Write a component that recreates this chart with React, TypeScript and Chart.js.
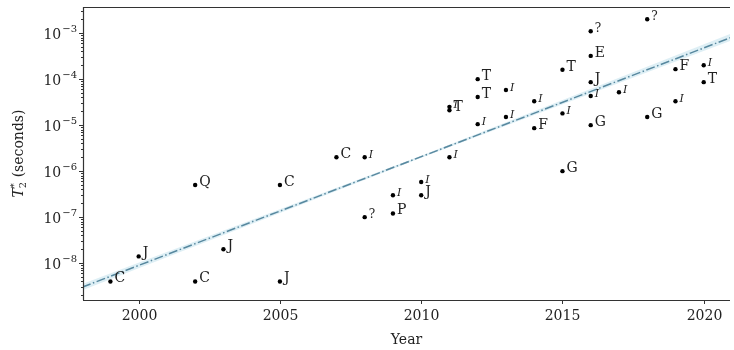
import { useEffect, useRef } from 'react';
import { Chart, registerables } from 'chart.js';

Chart.register(...registerables);

// ---- data ----
const pointYears = [
  1999, 2000, 2002, 2002, 2003, 2005, 2005, 2007, 2008, 2008,
  2009, 2009, 2010, 2010, 2011, 2011, 2011, 2012, 2012, 2012,
  2013, 2013, 2014, 2014, 2015, 2015, 2015, 2016, 2016, 2016,
  2016, 2016, 2017, 2018, 2018, 2019, 2019, 2020, 2020,
];
const pointValues = [
  4e-9, 1.4e-8, 5e-7, 4e-9, 2e-8, 5e-7, 4e-9, 2e-6, 2e-6, 1e-7,
  3e-7, 1.2e-7, 5.8e-7, 3e-7, 2.1e-5, 2.5e-5, 2e-6, 1e-4, 4.1e-5, 1.05e-5,
  5.8e-5, 1.5e-5, 3.3e-5, 8.6e-6, 1.6e-4, 1.8e-5, 1e-6, 1.1e-3, 3.2e-4, 8.6e-5,
  4.3e-5, 1e-5, 5.2e-5, 2e-3, 1.5e-5, 1.65e-4, 3.3e-5, 2e-4, 8.6e-5,
];
const pointLabels = [
  'C', 'J', 'Q', 'C', 'J', 'C', 'J', 'C', 'I', '?',
  'I', 'P', 'I', 'J', 'T', 'I', 'I', 'T', 'T', 'I',
  'I', 'I', 'I', 'F', 'T', 'I', 'G', '?', 'E', 'J',
  'I', 'G', 'I', '?', 'G', 'F', 'I', 'I', 'T',
];
const trendYears = [1998, 2021];
const trendValues = [3.0e-9, 8.2e-4];
const bandYears = [1998, 2010, 2021];
const bandUpper = [3.5e-9, 2.15e-6, 1.0e-3];
const bandLower = [2.55e-9, 1.96e-6, 7.0e-4];
const xTickYears = [2000, 2005, 2010, 2015, 2020];
const yTickPowers = [-8, -7, -6, -5, -4, -3];
const xLimits = [1998.03, 2020.93];
const yLimits = [1.58e-9, 3.7e-3];

const FONT = '"DejaVu Serif", "Liberation Serif", serif';
const INK = '#222';

const decorPlugin = {
  id: 'decor',
  afterDatasetsDraw(chart: any) {
    const ctx: CanvasRenderingContext2D = chart.ctx;
    const { left, right, top, bottom } = chart.chartArea;
    const xs = chart.scales.x;
    const ys = chart.scales.y;
    ctx.save();

    // point labels
    const meta = chart.getDatasetMeta(3);
    ctx.fillStyle = INK;
    ctx.textAlign = 'left';
    ctx.textBaseline = 'alphabetic';
    meta.data.forEach((el: any, i: number) => {
      const lab = pointLabels[i];
      if (lab === 'I') ctx.font = `italic 11px ${FONT}`;
      else if (lab === '?') ctx.font = `12px ${FONT}`;
      else ctx.font = `14px ${FONT}`;
      ctx.fillText(lab, el.x + 4, el.y + 1);
    });

    // frame (top, left, bottom)
    ctx.strokeStyle = '#333';
    ctx.lineWidth = 1.2;
    ctx.beginPath();
    ctx.moveTo(left, top + 0.5);
    ctx.lineTo(right, top + 0.5);
    ctx.moveTo(left + 0.5, top);
    ctx.lineTo(left + 0.5, bottom);
    ctx.moveTo(left, bottom + 0.5);
    ctx.lineTo(right, bottom + 0.5);
    ctx.stroke();

    // x ticks and labels
    ctx.lineWidth = 1;
    ctx.font = `14px ${FONT}`;
    ctx.textAlign = 'center';
    ctx.textBaseline = 'top';
    xTickYears.forEach((yr) => {
      const px = Math.round(xs.getPixelForValue(yr)) + 0.5;
      ctx.beginPath();
      ctx.moveTo(px, bottom);
      ctx.lineTo(px, bottom + 4);
      ctx.stroke();
      ctx.fillText(String(yr), px, bottom + 9);
    });

    // y minor ticks
    for (let p = -9; p <= -3; p++) {
      for (let m = 2; m <= 9; m++) {
        const v = m * Math.pow(10, p);
        if (v < yLimits[0] || v > yLimits[1]) continue;
        const py = Math.round(ys.getPixelForValue(v)) + 0.5;
        ctx.beginPath();
        ctx.moveTo(left - 2, py);
        ctx.lineTo(left, py);
        ctx.stroke();
      }
    }
    // y major ticks and labels
    yTickPowers.forEach((p) => {
      const py = Math.round(ys.getPixelForValue(Math.pow(10, p))) + 0.5;
      ctx.beginPath();
      ctx.moveTo(left - 4, py);
      ctx.lineTo(left, py);
      ctx.stroke();
      const sup = '\u2212' + String(-p);
      ctx.font = `10px ${FONT}`;
      const supW = ctx.measureText(sup).width;
      const endX = left - 6;
      ctx.textAlign = 'left';
      ctx.textBaseline = 'alphabetic';
      ctx.fillText(sup, endX - supW, py - 2);
      ctx.font = `14px ${FONT}`;
      ctx.textAlign = 'right';
      ctx.fillText('10', endX - supW - 1, py + 5);
    });

    // x title
    ctx.font = `14px ${FONT}`;
    ctx.textAlign = 'center';
    ctx.textBaseline = 'alphabetic';
    ctx.fillText('Year', (left + right) / 2, 344);

    // y title: T2* (seconds), rotated
    ctx.save();
    ctx.translate(23, (top + bottom) / 2);
    ctx.rotate(-Math.PI / 2);
    const parts: [string, string, number][] = [
      ['T', `italic 14px ${FONT}`, 0],
      ['2', `10px ${FONT}`, 3],
      ['*', `10px ${FONT}`, -6],
      [' (seconds)', `14px ${FONT}`, 0],
    ];
    const widths = parts.map(([t, f]) => {
      ctx.font = f;
      return ctx.measureText(t).width;
    });
    const total = widths[0] + Math.max(widths[1], widths[2]) + widths[3];
    let cx = -total / 2;
    ctx.textAlign = 'left';
    ctx.font = parts[0][1];
    ctx.fillText(parts[0][0], cx, 0);
    cx += widths[0];
    ctx.font = parts[1][1];
    ctx.fillText(parts[1][0], cx, parts[1][2]);
    ctx.font = parts[2][1];
    ctx.fillText(parts[2][0], cx, parts[2][2]);
    cx += Math.max(widths[1], widths[2]);
    ctx.font = parts[3][1];
    ctx.fillText(parts[3][0], cx, 0);
    ctx.restore();

    ctx.restore();
  },
};

export default function App() {
  const ref = useRef<HTMLCanvasElement | null>(null);

  useEffect(() => {
    document.body.style.margin = '0';
    const canvas = ref.current;
    if (!canvas) return;
    const chart = new Chart(canvas, {
      type: 'scatter',
      data: {
        datasets: [
          {
            data: bandYears.map((x, i) => ({ x, y: bandUpper[i] })),
            showLine: true,
            fill: '+1',
            backgroundColor: 'rgba(173, 216, 230, 0.4)',
            borderWidth: 0,
            borderColor: 'rgba(0,0,0,0)',
            pointRadius: 0,
          },
          {
            data: bandYears.map((x, i) => ({ x, y: bandLower[i] })),
            showLine: true,
            fill: false,
            borderWidth: 0,
            borderColor: 'rgba(0,0,0,0)',
            pointRadius: 0,
          },
          {
            data: trendYears.map((x, i) => ({ x, y: trendValues[i] })),
            showLine: true,
            fill: false,
            borderColor: '#1f5470',
            borderWidth: 1.5,
            borderDash: [9, 2.5, 1.5, 2.5],
            pointRadius: 0,
          },
          {
            data: pointYears.map((x, i) => ({ x, y: pointValues[i] })),
            showLine: false,
            pointRadius: 2.2,
            pointBackgroundColor: '#000',
            pointBorderColor: '#000',
            pointBorderWidth: 0,
          },
        ],
      },
      options: {
        animation: false,
        responsive: true,
        maintainAspectRatio: false,
        layout: { padding: { top: 7, right: 0, bottom: 0, left: 0 } },
        plugins: { legend: { display: false }, tooltip: { enabled: false } },
        scales: {
          x: {
            type: 'linear',
            min: xLimits[0],
            max: xLimits[1],
            grid: { display: false },
            border: { display: false },
            ticks: { display: false },
            afterFit: (s: any) => { s.height = 50; },
          },
          y: {
            type: 'logarithmic',
            min: yLimits[0],
            max: yLimits[1],
            grid: { display: false },
            border: { display: false },
            ticks: { display: false },
            afterFit: (s: any) => { s.width = 83; },
          },
        },
      },
      plugins: [decorPlugin],
    } as any);
    return () => chart.destroy();
  }, []);

  return (
    <div style={{ width: 734, height: 350, position: 'relative', background: '#fff' }}>
      <canvas ref={ref} />
    </div>
  );
}
